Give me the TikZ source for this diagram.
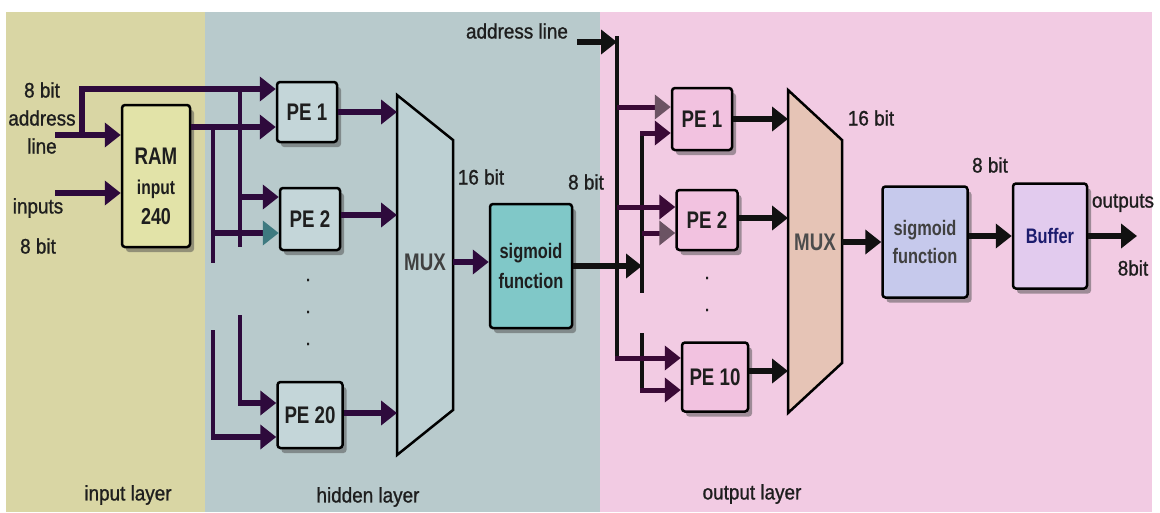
\documentclass[tikz,border=0pt]{standalone}
\usepackage{fontspec}
\setmainfont[FakeStretch=0.9,FakeBold=1]{Liberation Sans}
\newfontfamily\boxfont[FakeStretch=0.78]{Liberation Sans}
\usetikzlibrary{arrows.meta,shadows,calc}
\definecolor{bgY}{HTML}{D9D6A4}
\definecolor{bgB}{HTML}{B8CACC}
\definecolor{bgP}{HTML}{F2CBE3}
\definecolor{wire}{HTML}{2E0A3C}
\definecolor{wireP}{HTML}{3A0A36}
\definecolor{wireK}{HTML}{111111}
\definecolor{tipGray}{HTML}{6B5363}
\definecolor{tipTeal}{HTML}{3E7A80}
\definecolor{peHid}{HTML}{C4D6D9}
\definecolor{pePink}{HTML}{F2C2E0}
\definecolor{muxHid}{HTML}{BDD0D3}
\definecolor{muxOut}{HTML}{E6C4B6}
\definecolor{sigHid}{HTML}{80C8C8}
\definecolor{sigOut}{HTML}{C6C9EC}
\definecolor{bufC}{HTML}{E2CBEE}
\definecolor{ramC}{HTML}{E2E3A8}
\definecolor{navy}{HTML}{1C1C6E}
\definecolor{txt}{HTML}{1E1E1E}
\begin{document}
\begin{tikzpicture}[x=1pt,y=-1pt,
  block/.style={draw=black, line width=2.5pt, rounded corners=3pt,
    drop shadow={shadow xshift=4pt, shadow yshift=-5pt, opacity=0.5, fill=black!70},
    font=\boxfont\bfseries\fontsize{24}{26}\selectfont, text=txt, inner sep=0pt, align=center},
  lab/.style={font=\fontsize{21}{24}\selectfont, text=txt, inner sep=0pt},
  tipH/.style={-{Triangle[length=16pt,width=24pt,#1]}},
  tipH/.default={},
  arr/.style={line width=5.5pt, draw=wire, tipH},
  arrK/.style={line width=5.5pt, draw=wireK, tipH},
  arrP/.style={line width=5pt, draw=wireP, tipH},
  bus/.style={line width=3.5pt, draw=wire},
  busK/.style={line width=3.5pt, draw=wireK},
  muxshape/.style={draw=black, line width=2.5pt, line join=miter}
]
\useasboundingbox (0,0) rectangle (1160,512);
% backgrounds
\fill[white] (0,0) rectangle (1160,512);
\fill[bgY] (6,12) rectangle (205,512);
\fill[bgB] (205,12) rectangle (600,512);
\fill[bgP] (600,12) rectangle (1152,512);

% ---------- input layer ----------
\node[block, fill=ramC, minimum width=68pt, minimum height=142pt] (RAM) at (156,176)
  {\rule{0pt}{38pt}RAM\\[4pt]{\fontsize{20}{22}\selectfont input}\\[4pt]{\fontsize{23}{26}\selectfont 240}};
\node[lab, align=center, font=\fontsize{21}{28}\selectfont] (addrT) at (42,118) {8 bit\\address\\line};
\node[lab] (inT) at (38,208) {inputs};
\node[lab] (inB) at (38,246) {8 bit};
\coordinate (addrL) at (55,135);
\coordinate (inL) at (55,193);
\coordinate (jA) at (82,135);

% ---------- hidden layer ----------
\node[block, fill=peHid, minimum width=60pt, minimum height=60pt] (PE1) at (307,112) {PE 1};
\node[block, fill=peHid, minimum width=60pt, minimum height=62pt] (PE2) at (310,219) {PE 2};
\node[block, fill=peHid, minimum width=65pt, minimum height=66pt] (PE20) at (310,415) {PE 20};
\node[lab] (d1) at (308,280) {.};
\node[lab] (d2) at (308,312) {.};
\node[lab] (d3) at (308,344) {.};

\coordinate (m1a) at (397,95);
\coordinate (m1b) at (453,140);
\coordinate (m1c) at (453,410);
\coordinate (m1d) at (397,455);
\draw[muxshape, fill=muxHid] (m1a) -- (m1b) -- (m1c) -- (m1d) -- cycle;
\node[lab, font=\boxfont\bfseries\fontsize{24}{26}\selectfont, text=black!75] (mux1) at (425,262) {MUX};
\node[block, fill=sigHid, minimum width=82pt, minimum height=124pt,
  font=\boxfont\bfseries\fontsize{21}{30}\selectfont] (sig1) at (531,266) {sigmoid\\function};
\node[lab] (b16a) at (481,177) {16 bit};
\node[lab] (b8a) at (586,182) {8 bit};

% wires input -> hidden
\draw[arr] (addrL) -- ([yshift=41pt]RAM.west);
\draw[arr] (inL) -- ([yshift=-17pt]RAM.west);
\draw[arr] (jA) |- ([yshift=23pt]PE1.west);
\draw[arr] ([yshift=49pt]RAM.east) -- ([yshift=-15pt]PE1.west);
\coordinate (vA1) at (240,89);
\coordinate (vA2) at (240,247);
\coordinate (vA3) at (240,315);
\coordinate (vA4) at (240,403);
\coordinate (vB1) at (213,127);
\coordinate (vB2) at (213,263);
\coordinate (vB3) at (213,330);
\coordinate (vB4) at (213,437);
\draw[bus] (vA1) -- (vA2);
\draw[bus] (vA3) -- (vA4);
\draw[bus] (vB1) -- (vB2);
\draw[bus] (vB3) -- (vB4);
\draw[arr] (240,197) -- ([yshift=22pt]PE2.west);
\draw[arr, tipH={color=tipTeal}] (213,233) -- ([yshift=-14pt]PE2.west);
\draw[arr] ([xshift=-1.75pt]vA4) -- ([yshift=12pt]PE20.west);
\draw[arr] ([xshift=-1.75pt]vB4) -- ([yshift=-22pt]PE20.west);
\draw[arr] (PE1.east) -- (PE1.east -| m1a);
\draw[arr] ([yshift=4pt]PE2.east) -- ([yshift=4pt]PE2.east -| m1a);
\draw[arr] ([yshift=2pt]PE20.east) -- ([yshift=2pt]PE20.east -| m1a);
\draw[arr] (mux1 -| m1b) -- (mux1 -| sig1.west);

% ---------- output layer ----------
\node[lab] (adrT) at (517,31) {address line};
\coordinate (adr2) at (577,42);
\coordinate (c1top) at (617,36);
\coordinate (c1bot) at (617,358);
\coordinate (c2a) at (642,133);
\coordinate (c2b) at (642,293);
\coordinate (c2c) at (642,333);
\coordinate (c2d) at (642,390);
\node[block, fill=pePink, minimum width=60pt, minimum height=62pt] (PE1o) at (702,119) {PE 1};
\node[block, fill=pePink, minimum width=61pt, minimum height=60pt] (PE2o) at (707,220) {PE 2};
\node[block, fill=pePink, minimum width=66pt, minimum height=69pt] (PE10) at (715,377) {PE 10};
\node[lab] (d4) at (707,278) {.};
\node[lab] (d5) at (707,310) {.};

\draw[busK] (c1top) -- (c1bot);
\draw[arrK] (adr2) -- (617,42);
\draw[busK] (c2a) -- (c2b);
\draw[busK] (c2c) -- (c2d);
\draw[arrK] (sig1.east) -- (sig1.east -| c2a);
\draw[arrP, tipH={color=tipGray}] (617,107) -- ([yshift=12pt]PE1o.west);
\draw[arrP] ([xshift=-1.75pt]c2a) -- ([yshift=-14pt]PE1o.west);
\draw[arrP] (617,207) -- ([yshift=13pt]PE2o.west);
\draw[arrP, tipH={color=tipGray}] (642,233) -- ([yshift=-13pt]PE2o.west);
\draw[arrP] ([xshift=-1.75pt]c1bot) -- ([yshift=19pt]PE10.west);
\draw[arrP] ([xshift=-1.75pt]c2d) -- ([yshift=-13pt]PE10.west);

\coordinate (m2a) at (788,90);
\coordinate (m2b) at (842,140);
\coordinate (m2c) at (842,363);
\coordinate (m2d) at (788,413);
\draw[muxshape, fill=muxOut] (m2a) -- (m2b) -- (m2c) -- (m2d) -- cycle;
\node[lab, font=\boxfont\bfseries\fontsize{24}{26}\selectfont, text=black!70] (mux2) at (815,242) {MUX};
\draw[arrK] (PE1o.east) -- (PE1o.east -| m2a);
\draw[arrK] ([yshift=2pt]PE2o.east) -- ([yshift=2pt]PE2o.east -| m2a);
\draw[arrK] ([yshift=6pt]PE10.east) -- ([yshift=6pt]PE10.east -| m2a);

\node[block, fill=sigOut, minimum width=85pt, minimum height=111pt,
  font=\boxfont\bfseries\fontsize{21}{28}\selectfont, text=black!75] (sig2) at (925,242) {sigmoid\\function};
\node[block, fill=bufC, minimum width=74pt, minimum height=105pt,
  font=\boxfont\bfseries\fontsize{21}{24}\selectfont, text=navy] (buf) at (1050,236) {Buffer};
\draw[arrK] (mux2 -| m2b) -- (mux2 -| sig2.west);
\draw[arrK] (sig2.east |- buf.west) -- (buf.west);
\coordinate (outE) at (1137,236);
\draw[arrK] (buf.east) -- (outE);
\node[lab] (b16b) at (871,118) {16 bit};
\node[lab] (b8b) at (990,165) {8 bit};
\node[lab] (outT) at (1123,203) {outputs};
\node[lab] (outB) at (1133,268) {8bit};

% layer labels
\node[lab] (lIn) at (128,495) {input layer};
\node[lab] (lHid) at (368,497) {hidden layer};
\node[lab] (lOut) at (752,494) {output layer};
\end{tikzpicture}
\end{document}
